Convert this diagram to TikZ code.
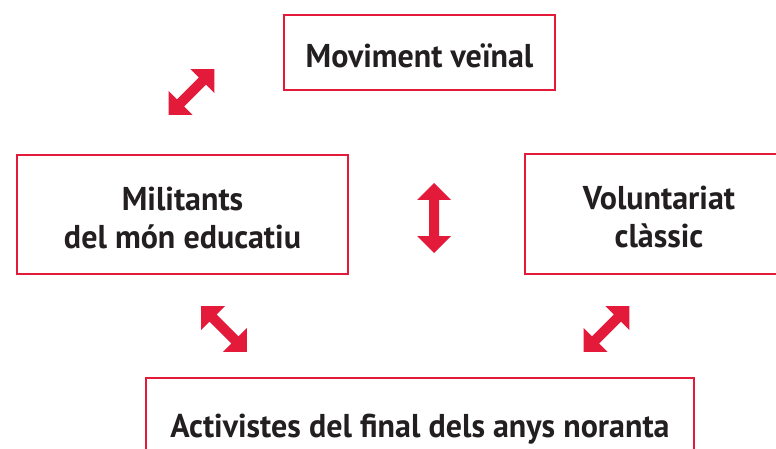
\documentclass[tikz,border=0pt]{standalone}
\usepackage{fontspec}
\newfontfamily\lblfont{PT Sans}[FakeStretch=0.97]
\definecolor{boxred}{RGB}{228,26,58}
\definecolor{txtdark}{RGB}{35,31,32}
\tikzset{
  lblbox/.style={draw=boxred, line width=2.6pt, fill=white, inner sep=0pt},
  lbltext/.style={align=center, text=txtdark, inner sep=0pt,
    font=\lblfont\bfseries\fontsize{33}{38}\selectfont},
  dbl/.pic={
    \fill[boxred] (-#1,0) -- (-#1+17,17) -- (-#1+17,5) -- (#1-17,5) -- (#1-17,17)
      -- (#1,0) -- (#1-17,-17) -- (#1-17,-5) -- (-#1+17,-5) -- (-#1+17,-17) -- cycle;
  }
}
\begin{document}
\begin{tikzpicture}[x=1pt,y=-1pt]
\useasboundingbox (0,0) rectangle (776,449);
\begin{scope}
\clip (0,0) rectangle (776,449);
\node[lblbox, minimum width=271pt, minimum height=75pt,
  label={[lbltext, yshift=-3pt]center:Moviment veïnal}] (mov) at (419.5,52.5) {};
\node[lblbox, minimum width=331pt, minimum height=119pt,
  label={[lbltext, yshift=-3.5pt]center:{Militants\\del món educatiu}}] (mil) at (182.5,214.5) {};
\node[lblbox, minimum width=268pt, minimum height=120pt,
  label={[lbltext, yshift=-3pt]center:{Voluntariat\\clàssic}}] (vol) at (659,214) {};
\node[lblbox, minimum width=548pt, minimum height=92pt,
  label={[lbltext, yshift=-5pt]center:Activistes del final dels anys noranta}] (act) at (420,424) {};
\coordinate (a1) at (191.5,92);
\coordinate (a2) at (434,218);
\coordinate (a3) at (224,329);
\coordinate (a4) at (606.5,329);
\pic[rotate=45] at (a1) {dbl=32.5};
\pic[rotate=90] at (a2) {dbl=35};
\pic[rotate=-45] at (a3) {dbl=32.5};
\pic[rotate=45] at (a4) {dbl=32.5};
\end{scope}
\end{tikzpicture}
\end{document}
